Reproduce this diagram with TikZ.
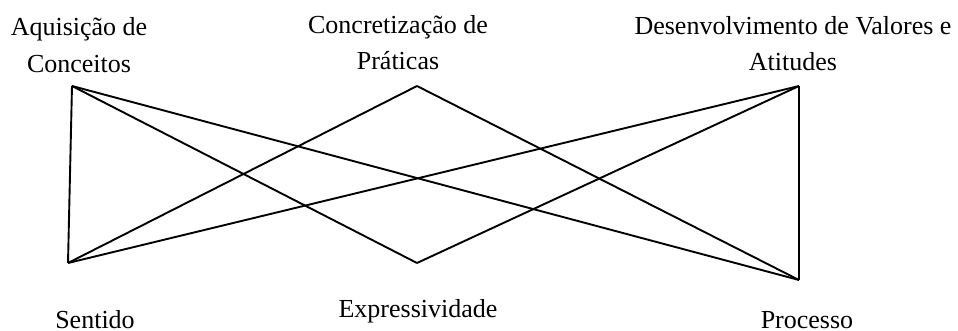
\documentclass[tikz,border=0pt]{standalone}
\usepackage{fontspec}
\setmainfont{Liberation Serif}
\tikzset{
  lbl/.style={inner sep=0pt, align=center, anchor=base, font=\fontsize{26}{36.5}\selectfont},
  link/.style={line width=1.9pt, line join=miter}
}
\begin{document}
\begin{tikzpicture}[x=1pt,y=-1pt]
\useasboundingbox (0,0) rectangle (958,331);
\coordinate (A) at (72,86);
\coordinate (C) at (417,86);
\coordinate (D) at (799,86);
\coordinate (S) at (68,263);
\coordinate (E) at (417,263);
\coordinate (P) at (799,280);
\node[lbl] (lA) at (79,72.5) {Aquisição de\\Conceitos};
\node[lbl] (lC) at (398,70) {Concretização de\\Práticas};
\node[lbl] (lD) at (793,71) {Desenvolvimento de Valores e\\Atitudes};
\node[lbl] (lS) at (95,328) {Sentido};
\node[lbl] (lE) at (418,317) {Expressividade};
\node[lbl] (lP) at (807,328) {Processo};
\draw[link] (A) -- (S);
\draw[link] (A) -- (E);
\draw[link] (A) -- (P);
\draw[link] (C) -- (S);
\draw[link] (C) -- (P);
\draw[link] (D) -- (S);
\draw[link] (D) -- (E);
\draw[link] (D) -- (P);
\end{tikzpicture}
\end{document}
